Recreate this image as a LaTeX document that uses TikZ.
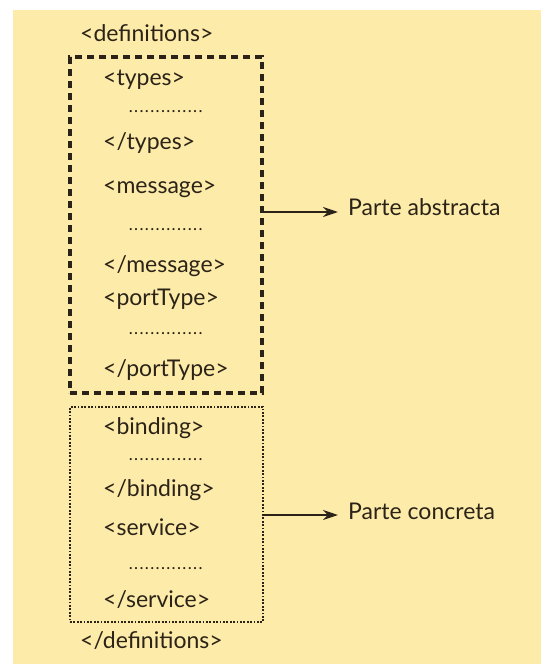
\documentclass[tikz,border=0pt]{standalone}
\usepackage{fontspec}
\setmainfont{Lato}
\usetikzlibrary{arrows.meta}
\definecolor{bgyellow}{HTML}{FDEBA9}
\definecolor{inkbrown}{HTML}{2B2317}
\newcommand{\tagdots}{\hbox to 75pt{\xleaders\hbox to 5.35pt{\hss.\hss}\hfil}}
\begin{document}
\begin{tikzpicture}[x=1pt,y=-1pt,
  every node/.style={text=inkbrown,inner sep=0pt,font=\fontsize{23}{25}\selectfont},
  tag/.style={anchor=west},
  filler/.style={anchor=west,font=\fontsize{17}{18}\selectfont},
  abstractbox/.style={draw=inkbrown,line width=3.2pt,dash pattern=on 7pt off 5pt,minimum width=192pt},
  concretebox/.style={draw=inkbrown,line width=1.8pt,dash pattern=on 1.8pt off 1.6pt,minimum width=193pt},
  partarrow/.style={draw=inkbrown,line width=2.2pt,-{Stealth[length=15pt,width=10pt]}},
  partlabel/.style={anchor=west}]
\useasboundingbox (0,0) rectangle (541,664);
\fill[bgyellow] (13,10) rectangle (541,664);
% boxes
\node[abstractbox,minimum height=336pt] (abstracta) at (166,225) {};
\node[concretebox,minimum height=215pt] (concreta) at (166.5,514.5) {};
% tags
\node[tag] (defopen) at (80,33) {<definitions>};
\node[tag] (typesopen) at (103,80) {<types>};
\node[filler] (typesdots) at (128,112) {\tagdots};
\node[tag] (typesclose) at (103,143) {</types>};
\node[tag] (msgopen) at (103,189) {<message>};
\node[filler] (msgdots) at (128,230) {\tagdots};
\node[tag] (msgclose) at (103,266) {</message>};
\node[tag] (portopen) at (103,299) {<portType>};
\node[filler] (portdots) at (128,334) {\tagdots};
\node[tag] (portclose) at (103,370) {</portType>};
\node[tag] (bindopen) at (103,428) {<binding>};
\node[filler] (binddots) at (128,460) {\tagdots};
\node[tag] (bindclose) at (103,490) {</binding>};
\node[tag] (servopen) at (103,527) {<service>};
\node[filler] (servdots) at (128,569) {\tagdots};
\node[tag] (servclose) at (103,600) {</service>};
\node[tag] (defclose) at (80,641) {</definitions>};
% parts
\coordinate (tipabs) at (338,212);
\coordinate (tipcon) at (338,515);
\node[partlabel] (lblabs) at (348,207) {Parte abstracta};
\node[partlabel] (lblcon) at (348,511) {Parte concreta};
\draw[partarrow] (abstracta.east |- tipabs) -- (tipabs);
\draw[partarrow] (concreta.east |- tipcon) -- (tipcon);
\end{tikzpicture}
\end{document}
